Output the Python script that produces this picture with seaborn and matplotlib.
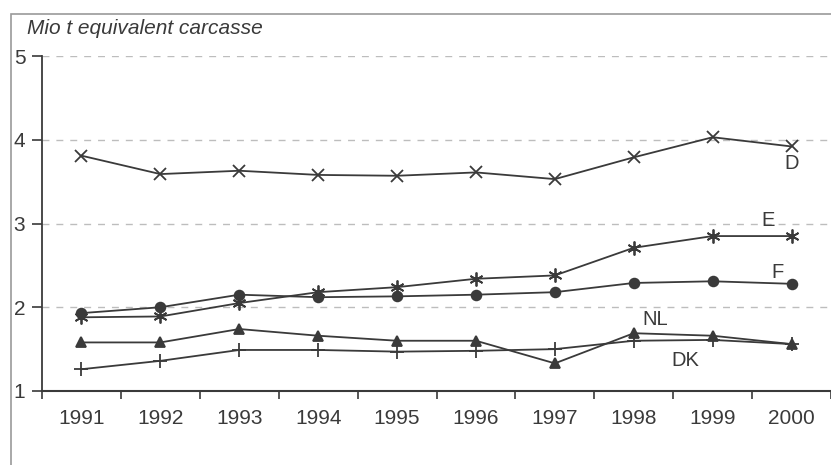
import numpy as np
import pandas as pd
import seaborn as sns
import matplotlib.pyplot as plt
from matplotlib.patches import Rectangle

years = ['1991', '1992', '1993', '1994', '1995', '1996', '1997', '1998', '1999', '2000']
d_vals = [3.81, 3.59, 3.63, 3.58, 3.57, 3.61, 3.53, 3.79, 4.03, 3.92]
e_vals = [1.88, 1.89, 2.05, 2.18, 2.24, 2.34, 2.38, 2.71, 2.85, 2.85]
f_vals = [1.93, 2.00, 2.15, 2.12, 2.13, 2.15, 2.18, 2.29, 2.31, 2.28]
nl_vals = [1.58, 1.58, 1.74, 1.66, 1.60, 1.60, 1.33, 1.69, 1.66, 1.56]
dk_vals = [1.26, 1.36, 1.49, 1.49, 1.47, 1.48, 1.50, 1.60, 1.61, 1.56]
unit_label = 'Mio t equivalent carcasse'

sns.set_theme(style='white')
plt.rcParams['font.family'] = ['Liberation Sans', 'DejaVu Sans']

fig = plt.figure(figsize=(8.31, 4.65), dpi=100)
ax = fig.add_axes([42 / 831, 1 - 391 / 465, 1 - 42 / 831, (391 - 56) / 465])

ink = '#3a3a3a'
series = [
    ('D', d_vals, 'x', 9),
    ('E', e_vals, (6, 2, 0), 10),
    ('F', f_vals, 'o', 7),
    ('NL', nl_vals, '^', 7),
    ('DK', dk_vals, '+', 10),
]
for name, vals, mk, ms in series:
    df = pd.DataFrame({'year': years, 'value': vals})
    sns.lineplot(data=df, x='year', y='value', ax=ax, color=ink, lw=1.3,
                 marker=mk, markersize=ms, markeredgecolor=ink,
                 markeredgewidth=1.3)

# series labels
labels = [('D', 9.0, 3.72), ('E', 8.7, 3.04), ('F', 8.82, 2.42),
          ('NL', 7.27, 1.85), ('DK', 7.65, 1.37)]
for txt, xp, yp in labels:
    ax.text(xp, yp, txt, fontsize=14.5, color=ink, ha='center', va='center')

ax.set_xlim(-0.5, 9.5)
ax.set_ylim(1, 5)
ax.set_yticks([1, 2, 3, 4, 5])
ax.set_xticks(range(len(years)))
ax.set_xticklabels(years)
ax.set_xticks(np.arange(-0.5, len(years), 1), minor=True)
ax.tick_params(axis='x', which='major', length=0, pad=13, labelsize=15, labelcolor=ink)
ax.tick_params(axis='x', which='minor', length=6, width=1.2, color=ink, direction='out', bottom=True)
ax.tick_params(axis='y', length=7, width=1.2, color=ink, direction='out', left=True,
               pad=5, labelsize=15, labelcolor=ink)
ax.set_xlabel('')
ax.set_ylabel('')

for y in [2, 3, 4, 5]:
    ax.axhline(y, color='#bdbdbd', lw=1, ls=(0, (5, 5)), zorder=0)

sns.despine(ax=ax, top=True, right=True)
ax.spines['left'].set_color(ink)
ax.spines['bottom'].set_color(ink)
ax.spines['left'].set_linewidth(1.3)
ax.spines['bottom'].set_linewidth(1.5)

fig.text(27 / 831, 1 - 28 / 465, unit_label, fontsize=15, style='italic',
         color=ink, va='center', ha='left')

fig.patches.append(Rectangle((11 / 831, -0.1), 1.2, 1.1 - 14 / 465,
                             transform=fig.transFigure, fill=False,
                             edgecolor='#9a9a9a', lw=1.2))

fig.savefig('out.png', dpi=100)
